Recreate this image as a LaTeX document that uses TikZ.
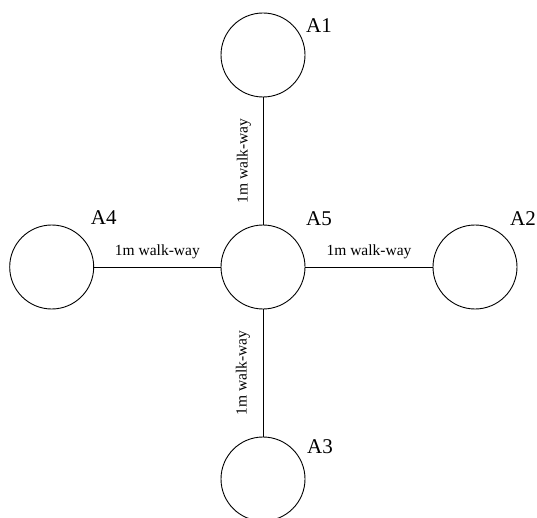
\documentclass[tikz,border=0pt]{standalone}
\usepackage{fontspec}
\setmainfont{Liberation Serif}
\begin{document}
\begin{tikzpicture}[x=1pt,y=1pt,
  area/.style={draw,circle,minimum size=84pt,inner sep=0pt,line width=0.9pt},
  tag/.style={font=\fontsize{21}{24}\selectfont,inner sep=0pt,anchor=base},
  way/.style={line width=0.9pt},
  wlab/.style={font=\fontsize{15.5}{18}\selectfont,inner sep=0pt}]
\useasboundingbox (0,0) rectangle (537,517);
\node[area] (a1) at (263,462) {};
\node[area] (a5) at (263,250) {};
\node[area] (a4) at (51.7,250) {};
\node[area] (a2) at (475,250) {};
\node[area] (a3) at (263,38) {};
\node[tag] (t1) at (319,484) {A1};
\node[tag] (t5) at (319,291.5) {A5};
\node[tag] (t4) at (103.7,292) {A4};
\node[tag] (t2) at (523,291.5) {A2};
\node[tag] (t3) at (320,64) {A3};
\draw[way] (a1) -- node[wlab,rotate=90,xshift=0pt,yshift=19pt] (w1) {1m walk-way} (a5);
\draw[way] (a5) -- node[wlab,rotate=90,yshift=20pt] (w3) {1m walk-way} (a3);
\draw[way] (a4) -- node[wlab,yshift=15.5pt] (w4) {1m walk-way} (a5);
\draw[way] (a5) -- node[wlab,yshift=15.5pt] (w2) {1m walk-way} (a2);
\end{tikzpicture}
\end{document}
